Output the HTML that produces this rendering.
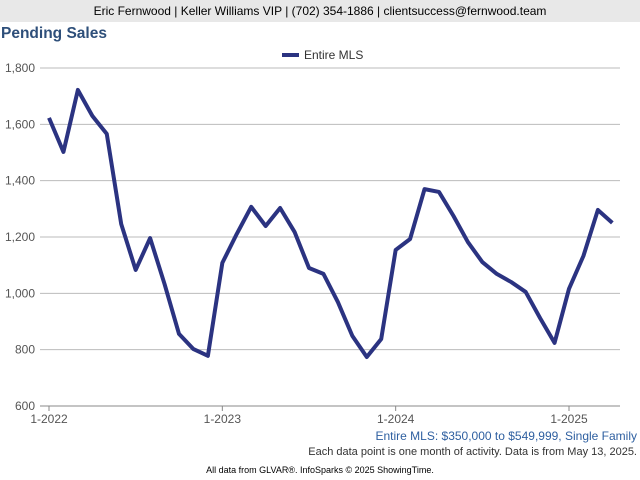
<!DOCTYPE html>
<html><head><meta charset="utf-8"><style>
body{margin:0;width:640px;height:480px;background:#fff;font-family:"Liberation Sans",Arial,sans-serif;overflow:hidden;position:relative}
.hdr{position:absolute;left:0;top:0;width:640px;height:22px;background:#e8e8e8;text-align:center;font-size:12px;line-height:22px;color:#000}
.title{position:absolute;left:1px;top:25px;font-size:15.5px;font-weight:bold;color:#2e4f7a}
.t{position:absolute;font-size:11px;color:#333;right:3px}
</style></head><body>
<div class="hdr">Eric Fernwood | Keller Williams VIP | (702) 354-1886 | clientsuccess@fernwood.team</div>
<div class="title">Pending Sales</div>
<svg id="c" width="640" height="480" style="position:absolute;left:0;top:0"></svg>
<div class="t" style="top:429px;font-size:12px;color:#2e5fa0">Entire MLS: $350,000 to $549,999, Single Family</div>
<div class="t" style="top:446px">Each data point is one month of activity. Data is from May 13, 2025.</div>
<div style="position:absolute;top:465px;left:0;width:640px;text-align:center;font-size:9px;color:#000">All data from GLVAR®. InfoSparks © 2025 ShowingTime.</div>
<script>
const values=[1623,1502,1722,1630,1566,1246,1083,1196,1033,856,802,778,1108,1211,1307,1239,1303,1218,1090,1069,969,849,774,838,1154,1193,1370,1360,1275,1182,1111,1069,1040,1005,912,824,1016,1133,1296,1250];
const yTicks=[600,800,1000,1200,1400,1600,1800];
const yLabels=["600","800","1,000","1,200","1,400","1,600","1,800"];
const xTickIdx=[0,12,24,36];
const xLabels=["1-2022","1-2023","1-2024","1-2025"];
const NS="http://www.w3.org/2000/svg",svg=document.getElementById('c');
const X0=40,X1=620,Y0=406,Y1=68;
const x=i=>49+i*(569-49)/36;
const y=v=>Y0-(v-600)*(Y0-Y1)/1200;
function mk(t,a){const e=document.createElementNS(NS,t);for(const k in a)e.setAttribute(k,a[k]);svg.appendChild(e);return e;}
yTicks.forEach((v,i)=>{
 const g=mk('line',{x1:X0,x2:X1,y1:y(v),y2:y(v),stroke:i==0?'#888':'#bbb','stroke-width':1});
 
 
 const t=mk('text',{x:35,y:y(v)+4,'text-anchor':'end','font-size':12,fill:'#555'});t.textContent=yLabels[i];
 
 
});
xTickIdx.forEach((idx,i)=>{
 const l=mk('line',{x1:x(idx),x2:x(idx),y1:Y0,y2:Y0+5,stroke:'#888'});
 
 
 const t=mk('text',{x:x(idx),y:Y0+17,'text-anchor':'middle','font-size':12,fill:'#555'});t.textContent=xLabels[i];
 
 
});
const p=mk('polyline',{points:values.map((v,i)=>x(i)+','+y(v)).join(' '),fill:'none',stroke:'#2b3381','stroke-width':4,'stroke-linejoin':'round'});


const lg=mk('line',{x1:282,x2:299,y1:55,y2:55,stroke:'#2b3381','stroke-width':4});


const lt=mk('text',{x:304,y:59,'font-size':12,fill:'#333'});lt.textContent='Entire MLS';


</script>
</body></html>
